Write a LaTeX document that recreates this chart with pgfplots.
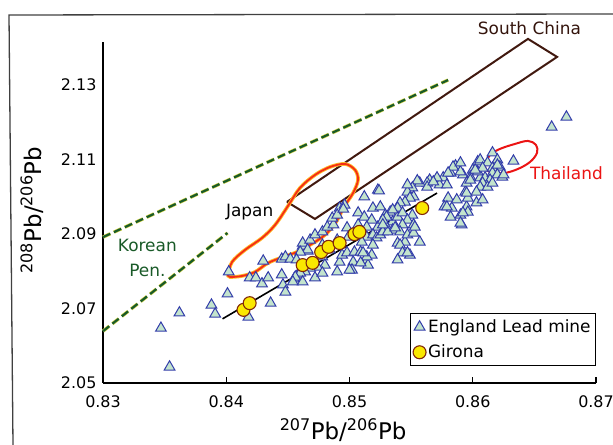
\documentclass[border=0pt]{standalone}
\usepackage{pgfplots}
\pgfplotsset{compat=1.18}
\usepackage{fontspec}
\setmainfont{DejaVu Sans}
\definecolor{tri}{RGB}{195,228,205}
\definecolor{triedge}{RGB}{50,60,170}
\definecolor{gir}{RGB}{250,232,0}
\definecolor{giredge}{RGB}{130,40,10}
\definecolor{korea}{RGB}{25,90,40}
\definecolor{koreahalo}{RGB}{210,210,70}
\definecolor{china}{RGB}{65,25,15}
\definecolor{japan}{RGB}{245,45,20}
\definecolor{japanhalo}{RGB}{255,185,40}
\definecolor{thai}{RGB}{235,20,20}
\begin{document}
\begin{tikzpicture}[x=1bp,y=1bp]
\useasboundingbox (0,0) rectangle (613,445);
\draw[line width=1.3bp, black!75] (613,431) -- (9,430) -- (13,0);
\begin{axis}[
  at={(103bp,62bp)}, anchor=south west,
  scale only axis, width=493bp, height=341bp,
  xmin=0.83, xmax=0.87, ymin=2.05, ymax=2.1414,
  axis x line*=bottom, axis y line*=left,
  axis line style={-, line width=1.4bp, black},
  xtick={0.83,0.84,0.85,0.86,0.87},
  ytick={2.05,2.07,2.09,2.11,2.13},
  tick align=inside,
  major tick length=6bp,
  xtick style={line width=1.2bp, black},
  ytick style={draw=none},
  /pgf/number format/fixed, /pgf/number format/fixed zerofill, /pgf/number format/precision=2, /pgf/number format/assume math mode=true,
  xticklabel style={font=\fontsize{16}{18}\selectfont, yshift=-9bp},
  yticklabel style={font=\fontsize{16}{18}\selectfont, xshift=-3bp},
  xlabel={\textsuperscript{207}Pb/\textsuperscript{206}Pb},
  ylabel={\textsuperscript{208}Pb/\textsuperscript{206}Pb},
  xlabel style={at={(axis description cs:0.487,0)}, anchor=center, yshift=-47bp, font=\fontsize{23}{26}\selectfont},
  ylabel style={at={(axis description cs:-0.144,0.507)}, anchor=center, font=\fontsize{23}{26}\selectfont},
  clip=false,
  legend style={at={(axis cs:0.87,2.0546)}, anchor=south east, draw=black, line width=0.8bp,
    font=\fontsize{17}{20}\selectfont, inner xsep=3bp, inner ysep=4bp, row sep=7bp,
    cells={anchor=west}},
]
% Korean Peninsula
\addplot[forget plot, koreahalo, line width=3.4bp, dash pattern=on 8bp off 4bp] coordinates {(0.83,2.0891) (0.8580,2.1312)};
\addplot[forget plot, korea, line width=2.2bp, dash pattern=on 8bp off 4bp] coordinates {(0.83,2.0891) (0.8580,2.1312)};
\addplot[forget plot, koreahalo, line width=3.4bp, dash pattern=on 8bp off 4bp] coordinates {(0.83,2.0639) (0.8401,2.0902)};
\addplot[forget plot, korea, line width=2.2bp, dash pattern=on 8bp off 4bp] coordinates {(0.83,2.0639) (0.8401,2.0902)};
% South China
\addplot[forget plot, china, line width=2bp, line join=miter] coordinates {(0.84493,2.09853) (0.86448,2.14223) (0.86684,2.13740) (0.84720,2.09397) (0.84493,2.09853)};
% Japan
\addplot[forget plot, japanhalo, line width=3.6bp, smooth, tension=0.55] coordinates {
(0.84014,2.07896) (0.84047,2.08244) (0.84152,2.08566) (0.84290,2.08887) (0.84396,2.09236)
(0.84501,2.09745) (0.84598,2.10228) (0.84720,2.10576) (0.84842,2.10791) (0.84964,2.10871)
(0.85045,2.10711) (0.85069,2.10442) (0.85029,2.10094) (0.84955,2.09719) (0.84891,2.09316)
(0.84801,2.08968) (0.84680,2.08700) (0.84574,2.08512) (0.84461,2.08378) (0.84339,2.08217)
(0.84233,2.07976) (0.84128,2.07869) (0.84030,2.07842) (0.84014,2.07896)};
\addplot[forget plot, japan, line width=1.8bp, smooth, tension=0.55] coordinates {
(0.84014,2.07896) (0.84047,2.08244) (0.84152,2.08566) (0.84290,2.08887) (0.84396,2.09236)
(0.84501,2.09745) (0.84598,2.10228) (0.84720,2.10576) (0.84842,2.10791) (0.84964,2.10871)
(0.85045,2.10711) (0.85069,2.10442) (0.85029,2.10094) (0.84955,2.09719) (0.84891,2.09316)
(0.84801,2.08968) (0.84680,2.08700) (0.84574,2.08512) (0.84461,2.08378) (0.84339,2.08217)
(0.84233,2.07976) (0.84128,2.07869) (0.84030,2.07842) (0.84014,2.07896)};
% Thailand
\addplot[forget plot, thai, line width=2bp, smooth, tension=0.6] coordinates {
(0.86100,2.10845) (0.86140,2.11113) (0.86221,2.11274) (0.86343,2.11408) (0.86448,2.11488)
(0.86513,2.11381) (0.86521,2.11166) (0.86465,2.10925) (0.86367,2.10737) (0.86262,2.10630)
(0.86173,2.10630) (0.86108,2.10711) (0.86100,2.10845)};
% England Lead mine
\addplot[only marks, mark=triangle*, mark size=6.2pt, mark options={fill=tri, draw=triedge, line width=1bp}] coordinates {
(0.8347,2.0647) (0.8362,2.0688) (0.8354,2.0543) (0.8388,2.0709) (0.8391,2.0685)
(0.8401,2.0739) (0.8402,2.0798) (0.8418,2.0677) (0.8430,2.0827) (0.8436,2.0714)
(0.8419,2.0782) (0.8424,2.0782) (0.8429,2.0766) (0.8434,2.0782) (0.8445,2.0832)
(0.8448,2.0838) (0.8452,2.0832) (0.8445,2.0790) (0.8446,2.0763) (0.8448,2.0744)
(0.8455,2.0779) (0.8458,2.0790) (0.8461,2.0803) (0.8462,2.0867) (0.8466,2.0854)
(0.8523,2.1017) (0.8512,2.0999) (0.8492,2.0969) (0.8496,2.0977) (0.8507,2.0956)
(0.8512,2.0945) (0.8519,2.0969) (0.8525,2.0972) (0.8529,2.0950) (0.8533,2.0958)
(0.8535,2.0932) (0.8539,2.0945) (0.8518,2.0937) (0.8514,2.0918) (0.8523,2.0918)
(0.8530,2.0918) (0.8535,2.0910) (0.8539,2.0875) (0.8518,2.0843) (0.8513,2.0822)
(0.8515,2.0816) (0.8503,2.0824) (0.8502,2.0803) (0.8492,2.0824) (0.8490,2.0798)
(0.8494,2.0843) (0.8484,2.0857) (0.8478,2.0838) (0.8480,2.0816) (0.8474,2.0811)
(0.8468,2.0808) (0.8464,2.0798) (0.8460,2.0795) (0.8456,2.0784) (0.8454,2.0771)
(0.8462,2.0771) (0.8472,2.0782) (0.8462,2.0875) (0.8468,2.0883) (0.8472,2.0897)
(0.8478,2.0905) (0.8482,2.0918) (0.8487,2.0924) (0.8486,2.0942) (0.8490,2.0950)
(0.8495,2.0966) (0.8498,2.0916) (0.8499,2.0891) (0.8507,2.0924) (0.8510,2.0905)
(0.8514,2.0891) (0.8519,2.0897) (0.8522,2.0889) (0.8525,2.0897) (0.8527,2.0905)
(0.8531,2.0905) (0.8510,2.0878) (0.8519,2.0870) (0.8498,2.0849) (0.8504,2.0851)
(0.8509,2.0851) (0.8490,2.0883) (0.8478,2.0870) (0.8466,2.0857) (0.8460,2.0851)
(0.8457,2.0830) (0.8478,2.0795)
(0.8586,2.1082) (0.8600,2.1071) (0.8604,2.1093) (0.8598,2.1052) (0.8592,2.1058)
(0.8582,2.1063) (0.8576,2.1050) (0.8573,2.1031) (0.8571,2.1050) (0.8565,2.1044)
(0.8563,2.1036) (0.8557,2.1036) (0.8555,2.1042) (0.8551,2.1023) (0.8547,2.1012)
(0.8552,2.0999) (0.8549,2.0996) (0.8545,2.0985) (0.8541,2.0983) (0.8539,2.0969)
(0.8535,2.0964) (0.8530,2.0945) (0.8527,2.0937) (0.8543,2.0956) (0.8551,2.0950)
(0.8547,2.0937) (0.8552,2.0924) (0.8543,2.0924) (0.8541,2.0905) (0.8537,2.0916)
(0.8527,2.0924) (0.8545,2.0878) (0.8541,2.0870) (0.8547,2.0897) (0.8557,2.0878)
(0.8549,2.0843) (0.8543,2.0849) (0.8539,2.0830) (0.8580,2.0996) (0.8577,2.0972)
(0.8583,2.0969) (0.8587,2.0991) (0.8594,2.1012) (0.8595,2.0972) (0.8590,2.0950)
(0.8596,2.0958) (0.8591,2.0924) (0.8603,2.0983) (0.8606,2.1050) (0.8604,2.1066)
(0.8676,2.1213) (0.8664,2.1186) (0.8616,2.1117) (0.8633,2.1095) (0.8606,2.1098)
(0.8612,2.1090) (0.8620,2.1098) (0.8622,2.1079) (0.8616,2.1076) (0.8608,2.1076)
(0.8602,2.1071) (0.8610,2.1050) (0.8616,2.1063) (0.8620,2.1058) (0.8624,2.1052)
(0.8614,2.1044) (0.8608,2.1036) (0.8606,2.1025) (0.8612,2.1025) (0.8616,2.1036)
(0.8595,2.1036) (0.8598,2.1044) (0.8603,2.1012) (0.8608,2.0991) (0.8596,2.0996)
(0.8590,2.1066)
(0.8524,2.1015) (0.8547,2.1031) (0.8563,2.1025) (0.8568,2.1039) (0.8579,2.1031)
(0.8584,2.1079) (0.8580,2.1063) (0.8590,2.1090) (0.8595,2.1009) (0.8579,2.0972)
(0.8582,2.0945) (0.8592,2.0956) (0.8620,2.1084) (0.8625,2.1058)
(0.8547,2.0849) (0.8552,2.0902) (0.8514,2.0838) (0.8509,2.0822) (0.8500,2.0803)
(0.8511,2.0849) (0.8590,2.0929) (0.8553,2.0918)};
\addlegendentry{England Lead mine}
% regression line
\addplot[forget plot, black, line width=1.6bp] coordinates {(0.8397,2.0672) (0.8571,2.1009)};
% Girona
\addplot[only marks, mark=*, mark size=6.5pt, mark options={fill=gir, draw=giredge, line width=1.1bp}] coordinates {
(0.8414,2.0696) (0.8419,2.0714) (0.8462,2.0816) (0.8470,2.0822) (0.8477,2.0851)
(0.8483,2.0865) (0.8492,2.0875) (0.8504,2.0899) (0.8508,2.0905) (0.8559,2.0969)};
\addlegendentry{Girona}
% labels
\node[font=\fontsize{17}{20}\selectfont, text=china!80!black] at (axis cs:0.8646,2.1452) {South China};
\node[font=\fontsize{17}{20}\selectfont, text=black] at (axis cs:0.8419,2.0958) {Japan};
\node[font=\fontsize{17}{20}\selectfont, text=korea] at (axis cs:0.8336,2.0870) {Korean};
\node[font=\fontsize{17}{20}\selectfont, text=korea] at (axis cs:0.8336,2.0803) {Pen.};
\node[font=\fontsize{17}{20}\selectfont, text=thai] at (axis cs:0.8676,2.1063) {Thailand};
\end{axis}
\end{tikzpicture}
\end{document}
